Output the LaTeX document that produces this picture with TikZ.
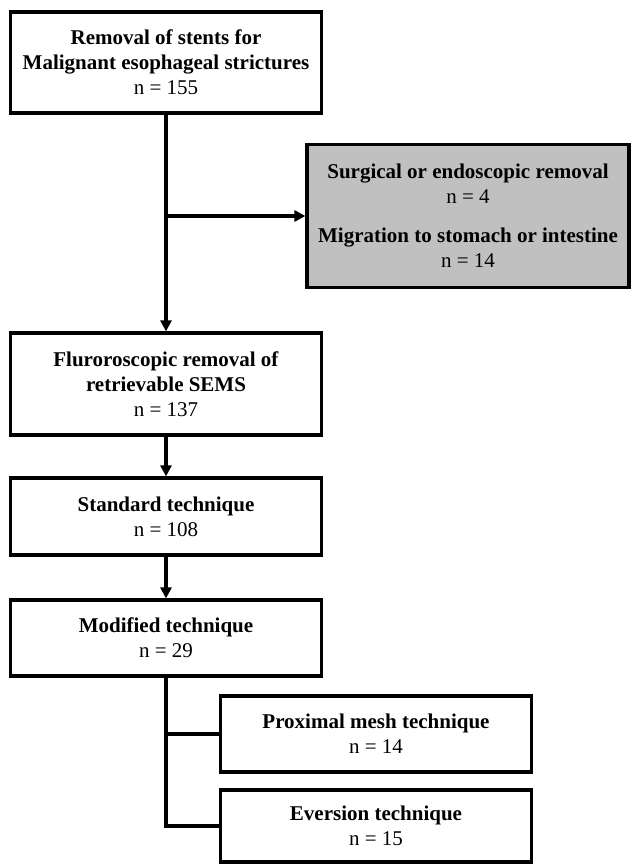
\documentclass[tikz,border=0pt]{standalone}
\usepackage{fontspec}
\setmainfont{Liberation Serif}
\usetikzlibrary{arrows.meta}
\definecolor{grayfill}{RGB}{192,192,192}
\tikzset{
  box/.style={draw=black, line width=3.2pt, fill=white, align=center,
    font=\fontsize{21}{25}\selectfont, inner sep=0pt, minimum width=311pt},
  graybox/.style={box, fill=grayfill, minimum width=322pt},
  conn/.style={line width=3.2pt},
  arr/.style={conn, -{Triangle[length=11pt,width=11pt]}}
}
\begin{document}
\begin{tikzpicture}[x=1pt,y=-1pt]
\useasboundingbox (0,0) rectangle (634,864);
\node[box, minimum height=101pt] (b1) at (166,62.5)
  {\textbf{Removal of stents for}\\\textbf{Malignant esophageal strictures}\\n = 155};
\node[graybox, minimum height=143pt] (gray) at (468,216)
  {\textbf{Surgical or endoscopic removal}\\n = 4\\[14pt]\textbf{Migration to stomach or intestine}\\n = 14};
\node[box, minimum height=102pt] (b2) at (166,384)
  {\textbf{Fluroroscopic removal of}\\\textbf{retrievable SEMS}\\n = 137};
\node[box, minimum height=77pt] (b3) at (166,516.5)
  {\textbf{Standard technique}\\n = 108};
\node[box, minimum height=76pt] (b4) at (166,638)
  {\textbf{Modified technique}\\n = 29};
\node[box, minimum height=76pt] (b5) at (376,734)
  {\textbf{Proximal mesh technique}\\n = 14};
\node[box, minimum height=72pt] (b6) at (376,826)
  {\textbf{Eversion technique}\\n = 15};
\coordinate (j1) at (b1.south |- gray.west);
\draw[arr] (b1.south) -- (b2.north);
\draw[arr] (j1) -- (gray.west);
\draw[arr] (b2.south) -- (b3.north);
\draw[arr] (b3.south) -- (b4.north);
\draw[conn] (b4.south) -- (b4.south |- b6.west) -- (b6.west);
\draw[conn] (b4.south |- b5.west) -- (b5.west);
\end{tikzpicture}
\end{document}
